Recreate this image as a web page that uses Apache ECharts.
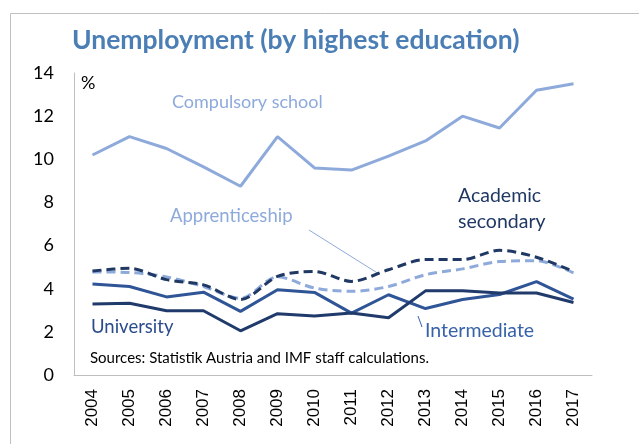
<!DOCTYPE html>
<html>
<head>
<meta charset="utf-8">
<script src="https://cdn.jsdelivr.net/npm/echarts@6/dist/echarts.min.js"></script>
<style>
  html, body { margin: 0; padding: 0; background: #fff; }
  #chart { width: 639px; height: 444px; }
</style>
</head>
<body>
<div id="chart"></div>
<script>
// years on the x axis
const years = ['2004', '2005', '2006', '2007', '2008', '2009', '2010', '2011', '2012', '2013', '2014', '2015', '2016', '2017']

// unemployment rate, %
const compulsory = [10.2, 11.05, 10.5, 9.65, 8.75, 11.05, 9.6, 9.5, 10.15, 10.85, 12.0, 11.45, 13.2, 13.5]
const academic = [4.82, 4.95, 4.42, 4.18, 3.5, 4.57, 4.8, 4.34, 4.88, 5.35, 5.35, 5.78, 5.46, 4.8]
const apprenticeship = [4.78, 4.75, 4.55, 4.1, 3.55, 4.55, 4.03, 3.88, 4.1, 4.65, 4.92, 5.26, 5.3, 4.73]
const intermediate = [4.22, 4.1, 3.62, 3.84, 2.95, 3.95, 3.83, 2.87, 3.72, 3.08, 3.5, 3.73, 4.33, 3.52]
const university = [3.29, 3.33, 2.98, 2.98, 2.05, 2.84, 2.74, 2.87, 2.65, 3.9, 3.9, 3.8, 3.8, 3.36]

const yTicks = [0, 2, 4, 6, 8, 10, 12, 14]

const txt = (x, y, text, color, size, extra) => ({
    type: 'text', left: x, top: y, silent: true,
    style: Object.assign({ text: text, fill: color, font: size + 'px Lato' }, extra || {})
})

const line = (x1, y1, x2, y2, color) => ({
    type: 'line', silent: true,
    shape: { x1: x1, y1: y1, x2: x2, y2: y2 },
    style: { stroke: color, lineWidth: 1 }
})

const chart = echarts.init(document.getElementById('chart'), null, { renderer: 'canvas' })

const series = [
    { name: 'Compulsory school', data: compulsory, color: '#8EAADB', type: 'solid', smooth: false },
    { name: 'Apprenticeship', data: apprenticeship, color: '#8EAADB', type: [9, 5], smooth: 0.3 },
    { name: 'Academic secondary', data: academic, color: '#203864', type: [9, 5], smooth: 0.3 },
    { name: 'Intermediate', data: intermediate, color: '#2F5597', type: 'solid', smooth: false },
    { name: 'University', data: university, color: '#1F3A6B', type: 'solid', smooth: false }
].map(s => ({
    name: s.name,
    type: 'line',
    data: s.data,
    smooth: s.smooth,
    symbol: 'none',
    silent: true,
    lineStyle: { color: s.color, width: 3, type: s.type, cap: 'butt' }
}))

chart.setOption({
    animation: false,
    backgroundColor: '#fff',
    grid: { left: 74, right: 47, top: 73, bottom: 69 },
    xAxis: {
        type: 'category',
        data: years,
        boundaryGap: true,
        axisLine: { lineStyle: { color: '#BFBFBF', width: 1 } },
        axisTick: { show: false },
        axisLabel: { rotate: 90, margin: 14, color: '#000', fontSize: 17, fontFamily: 'Liberation Sans' }
    },
    yAxis: {
        type: 'value',
        min: 0,
        max: yTicks[yTicks.length - 1],
        interval: 2,
        axisLine: { show: true, lineStyle: { color: '#BFBFBF', width: 1 } },
        axisTick: { show: false },
        splitLine: { show: false },
        axisLabel: { margin: 20, color: '#000', fontSize: 18, fontFamily: 'Lato' }
    },
    series: series,
    graphic: [
        // outer frame (top and left edges only visible)
        { type: 'rect', silent: true, shape: { x: 10.5, y: 13.5, width: 700, height: 500 },
          style: { fill: 'none', stroke: '#BFBFBF', lineWidth: 1 } },
        txt(72, 27, 'Unemployment (by highest education)', '#4A7EB4', 26.5, { font: 'bold 26.5px Lato' }),
        txt(81, 74, '%', '#000', 18),
        txt(172, 93, 'Compulsory school', '#8EAADB', 18),
        txt(170, 207, 'Apprenticeship', '#8EAADB', 18.5),
        txt(458, 186, 'Academic', '#203864', 19.5),
        txt(458, 212, 'secondary', '#203864', 19.5),
        txt(91, 318, 'University', '#2B4C8C', 18.5),
        txt(425, 321, 'Intermediate', '#3762AA', 19.5),
        txt(90, 351, 'Sources: Statistik Austria and IMF staff calculations.', '#000', 15),
        line(309, 230, 379, 274, '#8EAADB'),
        line(418, 316, 422, 327, '#3762AA')
    ]
})
</script>
</body>
</html>
